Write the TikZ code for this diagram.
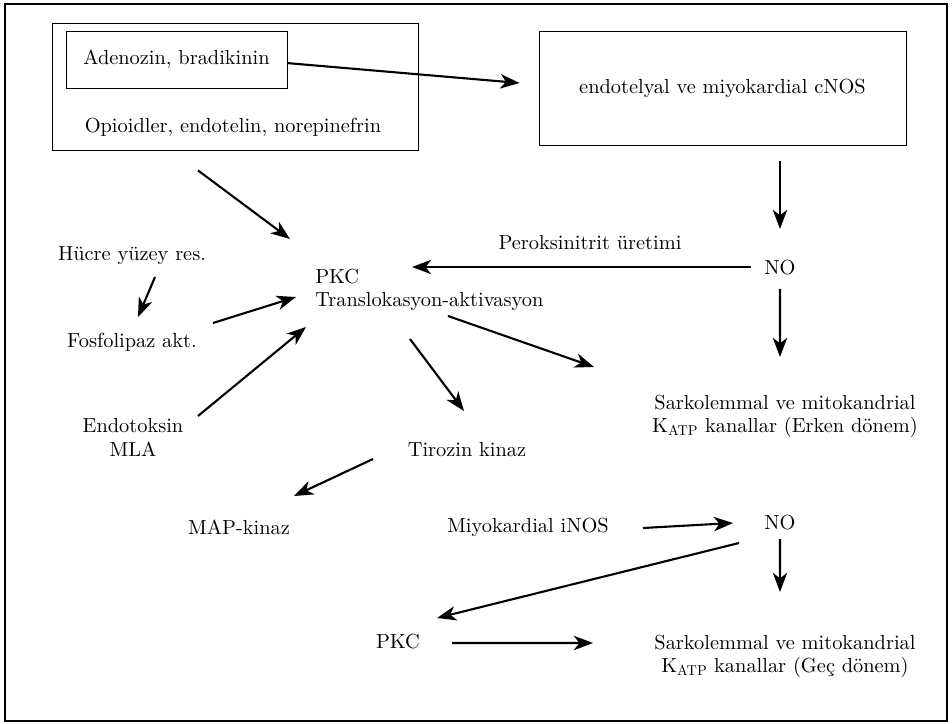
\documentclass[tikz,border=0pt]{standalone}
\usepackage{fontspec}
\setmainfont{lmroman10-regular.otf}
\usepackage{tikz}
\usetikzlibrary{arrows.meta}

\begin{document}
\begin{tikzpicture}[
  txt/.style={font=\fontsize{14.5}{16.5}\selectfont, align=center, inner sep=0pt},
  box/.style={draw, line width=0.6pt},
  arr/.style={-{Stealth[length=4.8mm, width=3.6mm, inset=1.4mm]}, line width=1.5pt}
]
\useasboundingbox (0,0) rectangle (23.8,-18.1);
\draw[line width=1.8pt] (0.125,-0.1) rectangle (23.675,-18.025);
\node[box, minimum width=9.15cm, minimum height=3.175cm] (grp) at (5.875,-2.1625) {};
\node[box, txt, minimum width=5.525cm, minimum height=1.425cm] (adeno) at (4.4125,-1.4875) {Adenozin, bradikinin};
\node[txt] (opi) at (5.825,-3.175) {Opioidler, endotelin, norepinefrin};
\node[box, txt, minimum width=9.175cm, minimum height=2.85cm] (cnos) at (18.0625,-2.2) {endotelyal ve miyokardial cNOS};
\node[txt] (no1) at (19.5,-6.7) {NO};
\node[txt] (perox) at (14.75,-6.075) {Peroksinitrit üretimi};
\node[txt, align=left, anchor=west] (pkc) at (7.875,-7.25) {PKC\\Translokasyon-aktivasyon};
\node[txt] (hucre) at (3.3,-6.4) {Hücre yüzey res.};
\node[txt] (fosfo) at (3.3,-8.55) {Fosfolipaz akt.};
\node[txt] (endo) at (3.325,-10.9375) {Endotoksin\\MLA};
\node[txt] (sark1) at (19.625,-10.4) {Sarkolemmal ve mitokandrial\\K\textsubscript{ATP} kanallar (Erken dönem)};
\node[txt] (tiro) at (11.675,-11.25) {Tirozin kinaz};
\node[txt] (map) at (5.975,-13.175) {MAP-kinaz};
\node[txt] (inos) at (13.2,-13.175) {Miyokardial iNOS};
\node[txt] (no2) at (19.5,-13.075) {NO};
\node[txt] (pkc2) at (9.95,-16.05) {PKC};
\node[txt] (sark2) at (19.625,-16.4) {Sarkolemmal ve mitokandrial\\K\textsubscript{ATP} kanallar (Geç dönem)};
\draw[arr] ([yshift=-0.09cm]adeno.east) -- ([shift={(-0.475,0.125)}]cnos.west);
\draw[arr] ([shift={(1.4375,-0.4)}]cnos.south) -- ([yshift=0.975cm]no1.center);
\draw[arr] ([shift={(-0.725,0.025)}]no1.center) -- ([shift={(2.425,0.575)}]pkc.west);
\draw[arr] ([yshift=-0.525cm]no1.center) -- ([shift={(-0.125,1.475)}]sark1.center);
\draw[arr] ([shift={(3.325,-0.65)}]pkc.west) -- ([shift={(-4.775,1.225)}]sark1.center);
\draw[arr] ([shift={(2.375,-1.225)}]pkc.west) -- ([shift={(-0.075,0.975)}]tiro.center);
\draw[arr] ([shift={(-2.35,-0.225)}]tiro.center) -- ([shift={(1.375,0.775)}]map.center);
\draw[arr] ([shift={(-0.925,-0.5)}]grp.south) -- ([shift={(-0.625,1.275)}]pkc.west);
\draw[arr] ([shift={(0.575,-0.525)}]hucre.center) -- ([shift={(0.15,0.625)}]fosfo.center);
\draw[arr] ([shift={(2.025,0.475)}]fosfo.center) -- ([shift={(-0.475,-0.175)}]pkc.west);
\draw[arr] ([shift={(1.625,0.5375)}]endo.center) -- ([shift={(-0.225,-0.925)}]pkc.west);
\draw[arr] ([shift={(2.875,-0.025)}]inos.center) -- ([xshift=-1.175cm]no2.center);
\draw[arr] ([yshift=-0.4cm]no2.center) -- ([shift={(-0.125,1.6)}]sark2.center);
\draw[arr] ([shift={(-1.025,-0.5)}]no2.center) -- ([shift={(0.975,0.6)}]pkc2.center);
\draw[arr] ([shift={(1.35,-0.025)}]pkc2.center) -- ([shift={(-4.8,0.325)}]sark2.center);
\end{tikzpicture}
\end{document}
